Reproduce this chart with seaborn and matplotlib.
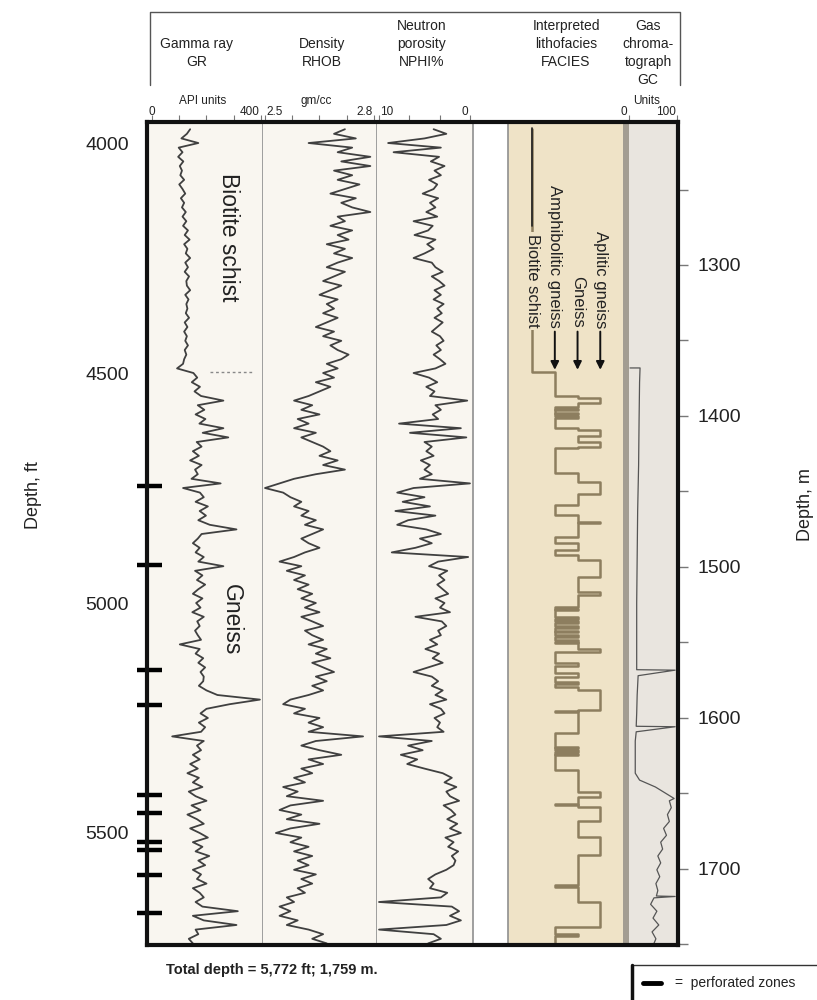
import matplotlib

matplotlib.use("Agg")
import matplotlib.pyplot as plt
from matplotlib.lines import Line2D
from matplotlib.patches import Rectangle
import numpy as np
import pandas as pd
import seaborn as sns

W, H = 817, 1000
TOP_FT, BOT_FT = 3954.3, 5743.5

# log samples every 10 ft, 3970-5760 ft (one row = 100 ft)
depth_ft = np.arange(3970, 5770, 10)

gr_api = [
    140, 128, 108, 170, 98, 112, 96, 115, 102, 110,
    104, 118, 100, 112, 122, 106, 118, 110, 124, 112,
    126, 114, 132, 120, 138, 118, 130, 124, 140, 122,
    132, 120, 136, 126, 128, 140, 122, 134, 126, 130,
    124, 136, 120, 130, 118, 128, 122, 132, 120, 126,
    118, 114, 92, 152, 166, 146, 176, 156, 180, 262,
    168, 192, 160, 196, 174, 262, 186, 280, 164, 182,
    150, 172, 140, 182, 158, 168, 145, 252, 114, 176,
    190, 160, 205, 175, 198, 170, 212, 310, 182, 168,
    150, 175, 160, 190, 170, 262, 158, 185, 165, 195,
    170, 150, 185, 162, 178, 148, 190, 166, 175, 158,
    168, 180, 102, 175, 160, 188, 170, 195, 178, 190,
    188, 172, 200, 240, 396, 285, 200, 178, 205, 172,
    195, 180, 74, 190, 165, 180, 150, 175, 140, 168,
    130, 172, 150, 185, 135, 160, 200, 145, 178, 130,
    165, 190, 140, 175, 205, 150, 185, 160, 210, 170,
    195, 150, 180, 165, 200, 150, 175, 190, 160, 185,
    315, 150, 190, 310, 160, 170, 135, 150, 160, 150,
]

rhob_gcc = [
    2.72, 2.69, 2.75, 2.62, 2.74, 2.70, 2.79, 2.71, 2.79, 2.69,
    2.74, 2.70, 2.76, 2.72, 2.68, 2.75, 2.71, 2.74, 2.79, 2.70,
    2.72, 2.68, 2.74, 2.70, 2.73, 2.67, 2.72, 2.69, 2.74, 2.70,
    2.67, 2.72, 2.69, 2.66, 2.71, 2.68, 2.65, 2.70, 2.67, 2.69,
    2.66, 2.70, 2.67, 2.64, 2.69, 2.66, 2.71, 2.68, 2.70, 2.73,
    2.71, 2.67, 2.70, 2.66, 2.69, 2.64, 2.68, 2.65, 2.62, 2.58,
    2.63, 2.60, 2.65, 2.59, 2.62, 2.58, 2.64, 2.60, 2.63, 2.66,
    2.68, 2.65, 2.70, 2.66, 2.72, 2.64, 2.58, 2.54, 2.50, 2.55,
    2.57, 2.60, 2.58, 2.62, 2.60, 2.64, 2.61, 2.66, 2.63, 2.60,
    2.62, 2.65, 2.61, 2.58, 2.54, 2.60, 2.56, 2.61, 2.58, 2.62,
    2.59, 2.63, 2.60, 2.64, 2.61, 2.65, 2.60, 2.63, 2.66, 2.61,
    2.63, 2.66, 2.62, 2.67, 2.64, 2.68, 2.63, 2.66, 2.69, 2.64,
    2.67, 2.63, 2.66, 2.62, 2.57, 2.55, 2.61, 2.58, 2.65, 2.62,
    2.66, 2.62, 2.77, 2.64, 2.60, 2.65, 2.71, 2.62, 2.66, 2.60,
    2.63, 2.58, 2.61, 2.55, 2.59, 2.56, 2.66, 2.57, 2.54, 2.60,
    2.56, 2.65, 2.57, 2.53, 2.60, 2.57, 2.62, 2.58, 2.63, 2.59,
    2.62, 2.58, 2.64, 2.60, 2.63, 2.59, 2.61, 2.56, 2.58, 2.54,
    2.57, 2.54, 2.59, 2.56, 2.62, 2.66, 2.63, 2.67, 2.64, 2.66,
]

nphi_pct = [
    4.0, 2.6, 5.0, 9.0, 3.2, 8.4, 3.4, 4.3, 2.8, 3.9,
    3.2, 4.5, 3.6, 4.0, 5.2, 3.5, 4.4, 3.8, 4.8, 3.6,
    6.2, 4.1, 4.6, 6.1, 3.8, 4.7, 4.0, 5.0, 6.2, 4.2,
    3.8, 3.0, 4.2, 3.4, 2.8, 3.9, 3.2, 4.0, 2.9, 3.6,
    3.1, 3.9, 3.0, 3.6, 4.2, 3.3, 2.9, 3.7, 3.2, 4.0,
    3.3, 2.7, 3.8, 6.2, 4.5, 3.6, 4.8, 3.9, 4.4, 0.3,
    3.8, 3.2, 4.1, 3.5, 7.8, 1.0, 6.6, 0.4, 5.0, 4.2,
    4.8, 4.0, 5.4, 4.4, 5.0, 4.2, 5.5, 0.0, 6.2, 8.0,
    5.0, 7.4, 4.4, 8.2, 3.8, 6.8, 8.0, 4.8, 3.2, 5.5,
    4.2, 6.0, 8.6, 0.2, 3.5, 4.5, 2.5, 3.4, 2.8, 3.6,
    3.0, 2.4, 3.8, 2.8, 3.3, 2.2, 6.0, 3.1, 2.6, 3.5,
    3.2, 4.4, 3.6, 4.9, 3.4, 4.1, 3.0, 4.6, 6.2, 4.2,
    3.5, 4.2, 3.0, 3.8, 2.6, 4.4, 3.2, 2.8, 3.9, 3.3,
    3.6, 2.9, 10.0, 4.2, 6.8, 5.2, 7.6, 5.8, 6.9, 5.0,
    3.0, 2.0, 2.8, 1.5, 2.6, 2.2, 1.2, 2.9, 2.1, 1.6,
    2.5, 1.4, 2.2, 1.0, 2.7, 1.8, 2.4, 1.3, 2.0, 1.6,
    1.8, 2.6, 3.8, 4.6, 4.0, 4.4, 2.5, 3.2, 10.0, 2.0,
    1.2, 2.2, 1.0, 2.6, 10.0, 4.0, 3.2, 4.6, 3.5, 4.0,
]

# 1 biotite schist, 2 amphibolitic gneiss, 3 gneiss, 4 aplitic gneiss
facies_top_ft = [
    3970, 4497, 4551, 4555, 4566, 4573, 4578, 4581, 4586, 4589,
    4594, 4597, 4620, 4624, 4636, 4649, 4660, 4664, 4718, 4736,
    4762, 4787, 4809, 4823, 4827, 4856, 4870, 4885, 4896, 4906,
    4943, 4975, 4983, 5008, 5012, 5016, 5030, 5034, 5040, 5044,
    5050, 5054, 5060, 5064, 5070, 5074, 5080, 5084, 5088, 5099,
    5106, 5131, 5138, 5153, 5160, 5171, 5175, 5182, 5189, 5233,
    5235, 5238, 5283, 5312, 5316, 5320, 5324, 5328, 5331, 5363,
    5410, 5421, 5436, 5440, 5443, 5475, 5508, 5548, 5613, 5617,
    5649, 5704, 5720, 5724, 5745,
]
facies_code = [
    1, 2, 3, 4, 3, 2, 3, 2, 3, 2,
    3, 2, 3, 4, 3, 4, 3, 2, 3, 4,
    3, 2, 3, 4, 3, 2, 3, 2, 3, 4,
    3, 4, 3, 2, 3, 2, 3, 2, 3, 2,
    3, 2, 3, 2, 3, 2, 3, 2, 3, 4,
    2, 3, 2, 3, 2, 3, 2, 3, 4, 3,
    2, 3, 2, 3, 2, 3, 2, 3, 2, 3,
    4, 3, 2, 3, 4, 3, 4, 3, 2, 3,
    4, 2, 3, 2, 2,
]
facies_names = ["Biotite schist", "Amphibolitic gneiss", "Gneiss", "Aplitic gneiss"]

gas_depth_ft = [
    4489, 4489, 4520, 4600, 4700, 4800, 4900, 5000, 5100, 5145,
    5146, 5158, 5200, 5240, 5268, 5269, 5280, 5300, 5340, 5370,
    5385, 5400, 5425, 5430, 5445, 5460, 5475, 5490, 5505, 5520,
    5535, 5550, 5565, 5580, 5595, 5610, 5625, 5637, 5638, 5641,
    5655, 5670, 5685, 5700, 5715, 5730, 5745,
]
gas_units = [
    2, 23, 22, 21, 20, 18, 17, 16, 16, 16,
    96, 19, 17, 16, 15, 96, 15, 13, 13, 13,
    22, 55, 94, 84, 88, 80, 84, 72, 78, 66,
    70, 60, 66, 58, 64, 56, 60, 57, 96, 52,
    45, 58, 50, 62, 48, 56, 50,
]

perforated_ft = [4746, 4917, 5146, 5222, 5417, 5457, 5520, 5537, 5591, 5674]

ft_ticks = [4000, 4500, 5000, 5500]
m_ticks = [1300, 1400, 1500, 1600, 1700]

CREAM = "#f9f6f0"
TAN = "#efe3c7"
GASBG = "#e9e5df"
CURVE = "#404040"
FACIES = "#8d7e5f"
DIV = "#8f8f8f"
TXT = "#222222"
NARROW = ["Liberation Sans Narrow", "Liberation Sans", "DejaVu Sans"]


def box(x0, y0, x1, y1):
    return [x0 / W, 1 - y1 / H, (x1 - x0) / W, (y1 - y0) / H]


def style_track(ax, bg, xlim, ticks):
    ax.set_facecolor(bg)
    ax.set_xlim(*xlim)
    ax.set_ylim(BOT_FT, TOP_FT)
    ax.set_xlabel("")
    ax.set_ylabel("")
    for s in ax.spines.values():
        s.set_visible(False)
    ax.set_yticks([])
    ax.set_xticks(ticks)
    ax.xaxis.tick_top()
    ax.tick_params(axis="x", direction="out", length=5, width=0.8, color="#777777",
                   labeltop=False, labelbottom=False)


def top_label(ax, value, text, ha, dx=0):
    ax.annotate(text, xy=(value, 1), xycoords=ax.get_xaxis_transform(),
                xytext=(dx, 3), textcoords="offset points", ha=ha, va="bottom",
                family=NARROW, fontsize=8.5, color=TXT)


def main() -> None:
    sns.set_style("white")
    plt.rcParams["font.family"] = ["Liberation Sans", "DejaVu Sans"]

    fig = plt.figure(figsize=(W / 100, H / 100), dpi=100)

    logs = pd.DataFrame({"depth": depth_ft, "gr": gr_api, "rhob": rhob_gcc, "nphi": nphi_pct})
    facies = pd.DataFrame({"depth": facies_top_ft, "code": facies_code})
    gas = pd.DataFrame({"depth": gas_depth_ft, "units": gas_units})

    ax_gr = fig.add_axes(box(147, 122, 263, 945))
    ax_rho = fig.add_axes(box(263, 122, 377, 945))
    ax_nphi = fig.add_axes(box(377, 122, 473, 945))
    ax_fac = fig.add_axes(box(508, 122, 623, 945))
    ax_gas = fig.add_axes(box(623, 122, 678, 945))

    line_kw = dict(orient="y", sort=False, estimator=None, color=CURVE, lw=1.3)
    sns.lineplot(data=logs, x="gr", y="depth", ax=ax_gr, **line_kw)
    sns.lineplot(data=logs, x="rhob", y="depth", ax=ax_rho, **line_kw)
    sns.lineplot(data=logs, x="nphi", y="depth", ax=ax_nphi, **line_kw)
    sns.lineplot(data=facies, x="code", y="depth", ax=ax_fac, orient="y", sort=False,
                 estimator=None, drawstyle="steps-pre", color=FACIES, lw=1.8)
    sns.lineplot(data=gas, x="units", y="depth", ax=ax_gas, orient="y", sort=False,
                 estimator=None, color="#555555", lw=0.9)

    style_track(ax_gr, CREAM, (-18.3, 407.3), [0, 100, 200, 300, 400])
    style_track(ax_rho, CREAM, (2.4945, 2.8083), [2.5, 2.575, 2.65, 2.725, 2.8])
    style_track(ax_nphi, CREAM, (10.22, -0.33), [10, 6.67, 3.33, 0])
    style_track(ax_fac, TAN, (-0.06, 5.0), [])
    style_track(ax_gas, GASBG, (-12.5, 102), [0, 100])

    for ax, side in [(ax_gr, "right"), (ax_rho, "right"), (ax_nphi, "right"), (ax_fac, "left")]:
        ax.spines[side].set_visible(True)
        ax.spines[side].set_color(DIV)
        ax.spines[side].set_linewidth(1.2)
    ax_gas.axvspan(-12.5, 0, color="#a39d92", lw=0)

    top_label(ax_gr, 0, "0", "center")
    top_label(ax_gr, 400, "400", "right", -1)
    top_label(ax_rho, 2.5, "2.5", "left", 1)
    top_label(ax_rho, 2.8, "2.8", "right", -1)
    top_label(ax_nphi, 10, "10", "left", 1)
    top_label(ax_nphi, 0, "0", "right", -1)
    top_label(ax_gas, 0, "0", "right", -1)
    top_label(ax_gas, 100, "100", "right", -1)

    # lithology names in the gamma ray track
    ax_gr.text(279, 4204, "Biotite schist", rotation=-90, ha="center", va="center",
               fontsize=16.5, color=TXT)
    ax_gr.text(290, 5037, "Gneiss", rotation=-90, ha="center", va="center",
               fontsize=16.5, color=TXT)
    ax_gr.hlines(4497, 213, 371, linestyles=(0, (2, 2)), colors="#888888", lw=1)

    # facies legend with arrows
    ax_fac.plot([1, 1], [3967, 4180], color="#222222", lw=1.2)
    for code, name in enumerate(facies_names, start=1):
        ax_fac.text(code, 4402, name, rotation=-90, ha="center", va="bottom",
                    fontsize=12, color=TXT,
                    bbox=dict(boxstyle="square,pad=0.15", fc=TAN, ec="none"))
        if code > 1:
            ax_fac.annotate("", xy=(code, 4493), xytext=(code, 4410),
                            arrowprops=dict(arrowstyle="-|>", color="#111111", lw=1.4,
                                            mutation_scale=12, shrinkA=0, shrinkB=0))

    # outer frame with depth scales
    frame = fig.add_axes(box(147, 122, 678, 945))
    frame.set_facecolor("none")
    frame.set_zorder(10)
    frame.set_xlim(0, 1)
    frame.set_ylim(BOT_FT, TOP_FT)
    frame.set_xticks([])
    frame.set_yticks(ft_ticks)
    frame.set_yticks(np.arange(4000, 5701, 100), minor=True)
    frame.tick_params(axis="y", which="both", direction="out", length=6, width=1,
                      color="#777777", labelsize=14, pad=7, labelcolor=TXT)
    for s in frame.spines.values():
        s.set_linewidth(3)
        s.set_color("#111111")
    frame.hlines(perforated_ft, -0.019, 0.028, transform=frame.get_yaxis_transform(),
                 colors="black", lw=3.2, clip_on=False)

    m_axis = frame.secondary_yaxis("right", functions=(lambda f: f * 0.3048, lambda m: m / 0.3048))
    m_axis.set_yticks(m_ticks)
    m_axis.set_yticks(np.arange(1250, 1751, 100), minor=True)
    m_axis.tick_params(which="both", direction="out", length=7, width=1, color="#777777",
                       labelsize=14, pad=7, labelcolor=TXT)
    m_axis.spines["right"].set_visible(False)

    fig.text(33 / W, 1 - 495 / H, "Depth, ft", rotation=90, ha="center", va="center",
             fontsize=13, color=TXT)
    fig.text(806 / W, 1 - 505 / H, "Depth, m", rotation=90, ha="center", va="center",
             fontsize=13, color=TXT)

    # header box
    fig.add_artist(Line2D([150 / W, 150 / W, 680 / W, 680 / W],
                          [1 - 85 / H, 1 - 12 / H, 1 - 12 / H, 1 - 85 / H],
                          color="#555555", lw=1))
    head = [
        (197, [44, 62], ["Gamma ray", "GR"]),
        (322, [44, 62], ["Density", "RHOB"]),
        (422, [26, 44, 62], ["Neutron", "porosity", "NPHI%"]),
        (566, [26, 44, 62], ["Interpreted", "lithofacies", "FACIES"]),
        (648, [26, 44, 62, 80], ["Gas", "chroma-", "tograph", "GC"]),
    ]
    for x, ys, lines in head:
        for y, s in zip(ys, lines):
            fig.text(x / W, 1 - y / H, s, ha="center", va="center", family=NARROW,
                     fontsize=10, color=TXT)
    for x, s in [(203, "API units"), (316, "gm/cc"), (647, "Units")]:
        fig.text(x / W, 1 - 101 / H, s, ha="center", va="center", family=NARROW,
                 fontsize=8.5, color=TXT)

    fig.text(272 / W, 1 - 970 / H, "Total depth = 5,772 ft; 1,759 m.", ha="center",
             va="center", family=NARROW, fontsize=10.5, fontweight="bold", color=TXT)

    # perforation key
    fig.add_artist(Rectangle((632 / W, -0.01), 0.3, (1000 - 965) / H + 0.01,
                             transform=fig.transFigure, fill=False, ec="#333333", lw=1))
    fig.add_artist(Line2D([632 / W, 632 / W], [0, 1 - 965 / H], color="#111111", lw=2.5))
    fig.add_artist(Line2D([643 / W, 661 / W], [1 - 983 / H, 1 - 983 / H], color="black", lw=3.5))
    fig.text(675 / W, 1 - 983 / H, "=  perforated zones", ha="left", va="center",
             family=NARROW, fontsize=10, color=TXT)

    fig.savefig("out.png", dpi=100)
    plt.close(fig)


if __name__ == "__main__":
    main()
